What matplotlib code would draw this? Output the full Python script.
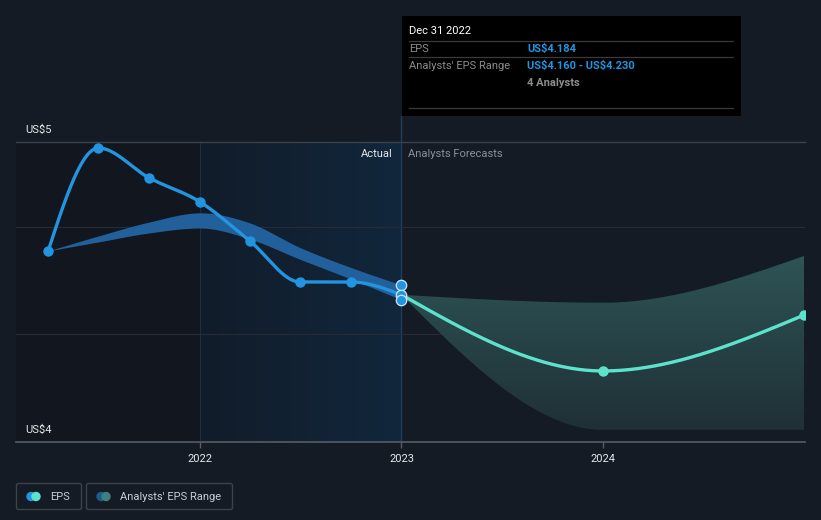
import numpy as np
import pandas as pd
import matplotlib
matplotlib.use("Agg")
import matplotlib.pyplot as plt
from matplotlib.patches import Rectangle, FancyBboxPatch, Circle, Polygon
from matplotlib.colors import LinearSegmentedColormap

plt.rcParams["font.family"] = ["Roboto", "DejaVu Sans"]

# ---- data ----
past_dates = ["2021-03-31", "2021-06-30", "2021-09-30", "2021-12-31",
              "2022-03-31", "2022-06-30", "2022-09-30", "2022-12-31"]
past_eps = [4.389, 4.870, 4.730, 4.618, 4.436, 4.244, 4.244, 4.184]
past_low = [4.389, 4.431, 4.473, 4.496, 4.445, 4.350, 4.258, 4.160]
past_high = [4.389, 4.459, 4.524, 4.567, 4.520, 4.405, 4.312, 4.230]

fc_dates = ["2022-12-31", "2023-12-31", "2024-12-31"]
fc_eps = [4.184, 3.828, 4.090]
fc_low = [4.184, 3.553, 3.553]
fc_high = [4.184, 4.147, 4.366]

x_ticks = [2022, 2023, 2024]
y_top, y_bottom = 4.898, 3.496
grid_vals = [4.5, 4.0]
y_labels = ["US$5", "US$4"]

BG = "#151b25"
BLUE = "#2394df"
TEAL = "#5de3cc"
BAND_PAST = "#21609a"


def to_year(dates):
    d = pd.to_datetime(dates)
    return np.array([t.year + (t.dayofyear) / (366 if t.is_leap_year else 365) for t in d])


def monotone(x, y, n=300):
    # monotone cubic (d3 curveMonotoneX style) just for drawing the curve
    x = np.asarray(x, float)
    y = np.asarray(y, float)
    h = np.diff(x)
    d = np.diff(y) / h
    m = np.zeros(len(x))
    for i in range(1, len(x) - 1):
        p = (d[i - 1] * h[i] + d[i] * h[i - 1]) / (h[i - 1] + h[i])
        m[i] = (np.sign(d[i - 1]) + np.sign(d[i])) * min(abs(d[i - 1]), abs(d[i]), 0.5 * abs(p))
    if len(x) > 2:
        m[0] = (3 * d[0] - m[1]) / 2
        m[-1] = (3 * d[-1] - m[-2]) / 2
    else:
        m[:] = d[0]
    xs, ys = [], []
    for i in range(len(x) - 1):
        t = np.linspace(0, 1, n // (len(x) - 1) + 2)
        h00 = 2 * t**3 - 3 * t**2 + 1
        h10 = t**3 - 2 * t**2 + t
        h01 = -2 * t**3 + 3 * t**2
        h11 = t**3 - t**2
        xs.append(x[i] + t * h[i])
        ys.append(h00 * y[i] + h10 * h[i] * m[i] + h01 * y[i + 1] + h11 * h[i] * m[i + 1])
    return np.concatenate(xs), np.concatenate(ys)


W, H = 821, 520
fig = plt.figure(figsize=(W / 100, H / 100), dpi=100, facecolor=BG)

# overlay in pixel coordinates for tooltip / legend
ov = fig.add_axes([0, 0, 1, 1], zorder=5)
ov.set_xlim(0, W)
ov.set_ylim(H, 0)
ov.axis("off")
ov.patch.set_alpha(0)

# main axes: px 16..805 horizontally, 142..442 vertically
px_per_year = 201.5
x_left = 2022 - (200 - 16) / px_per_year
x_right = 2022 + (805 - 200) / px_per_year
ax = fig.add_axes([16 / W, (H - 442) / H, (805 - 16) / W, 300 / H], zorder=2)
ax.set_facecolor(BG)
ax.set_xlim(x_left, x_right)
ax.set_ylim(y_bottom, y_top)
for s in ax.spines.values():
    s.set_visible(False)
ax.set_yticks([])

# background regions
ax.axvspan(x_left, 2022, color="#12161e", zorder=0, lw=0)
grad = np.linspace(0, 1, 256).reshape(1, -1)
bcm = LinearSegmentedColormap.from_list("b", ["#111c2a", "#11273c"])
ax.imshow(grad, extent=[2022, 2023, y_bottom, y_top], aspect="auto", cmap=bcm, zorder=0.5)
ax.axvline(2022, color="#1b2e42", lw=0.8, zorder=1)
ax.axvline(2023, ymin=0, ymax=(442 - 116) / 300, color="#1f3d5c", lw=1, zorder=1, clip_on=False)

# grid lines
ax.axhline(y_top, color="#3b414b", lw=1, zorder=1, clip_on=False)
for g in grid_vals:
    ax.axhline(g, color="#262c36", lw=0.8, zorder=1)
ax.axhline(y_bottom, color="#565c66", lw=1.2, zorder=6, clip_on=False)

# past analyst range band
px = to_year(past_dates)
bx, bl = monotone(px, past_low)
_, bh = monotone(px, past_high)
ax.fill_between(bx, bl, bh, color=BAND_PAST, lw=0, zorder=2)

# forecast band with vertical gradient
fx = to_year(fc_dates)
fbx, fbl = monotone(fx, fc_low)
_, fbh = monotone(fx, fc_high)
poly = Polygon(np.column_stack([np.r_[fbx, fbx[::-1]], np.r_[fbh, fbl[::-1]]]),
               closed=True, facecolor="none", edgecolor="none")
ax.add_patch(poly)
gcm = LinearSegmentedColormap.from_list("g", ["#1f3036", "#2e5455"])
vgrad = np.linspace(0, 1, 256).reshape(-1, 1)
im = ax.imshow(vgrad, extent=[fx[0], fx[-1], min(fc_low), max(fc_high)], origin="lower",
               aspect="auto", cmap=gcm, zorder=2)
im.set_clip_path(poly)

# EPS lines
lx, ly = monotone(px, past_eps)
ax.plot(lx, ly, color=BLUE, lw=2.4, zorder=4, solid_capstyle="round")
ax.plot(px[:-1], past_eps[:-1], "o", color=BLUE, ms=6.5, zorder=5)
flx, fly = monotone(fx, fc_eps)
ax.plot(flx, fly, color=TEAL, lw=2.4, zorder=4, solid_capstyle="round")
ax.plot(fx[1:], fc_eps[1:], "o", color=TEAL, ms=6.5, zorder=5, clip_on=True)
ax.plot([fx[0]] * 3, [past_high[-1], past_eps[-1], past_low[-1]], "o", color=BLUE,
        mec="#cfe6fb", mew=0.9, ms=7.5, zorder=6, clip_on=False)

# x ticks
ax.set_xticks(x_ticks)
ax.set_xticklabels([str(t) for t in x_ticks])
ax.tick_params(axis="x", colors="#565c66", length=4, width=1, pad=5, labelcolor="#e6e8eb",
               labelsize=8)

# y labels
for val, lab in zip([y_top, y_bottom], y_labels):
    ax.annotate(lab, xy=(x_left, val), xytext=(9, 12), textcoords="offset pixels",
                color="#e6e8eb", fontsize=8, va="center", ha="left", annotation_clip=False,
                parse_math=False)

# Actual / forecast labels
ax.annotate("Actual", xy=(2023, y_top), xytext=(-9, -12), textcoords="offset pixels",
            color="#e6e8eb", fontsize=8, ha="right", va="center")
ax.annotate("Analysts Forecasts", xy=(2023, y_top), xytext=(7, -12), textcoords="offset pixels",
            color="#8a8f97", fontsize=8, ha="left", va="center")

# tooltip
ov.add_patch(Rectangle((402, 16), 339, 100, facecolor="#000000", edgecolor="none"))
for yy in (41, 57, 108):
    ov.plot([409, 733], [yy, yy], color="#3a3a3a", lw=0.9)
tip = dict(fontsize=8, va="center", parse_math=False)
ov.text(409, 31, "Dec 31 2022", color="#ffffff", **tip)
ov.text(409, 48.5, "EPS", color="#8c8c8c", **tip)
ov.text(527, 48.5, "US$4.184", color=BLUE, fontweight="bold", **tip)
ov.text(409, 66, "Analysts' EPS Range", color="#8c8c8c", **tip)
ov.text(527, 66, "US$4.160 - US$4.230", color=BLUE, fontweight="bold", **tip)
ov.text(527, 83, "4 Analysts", color="#8c8c8c", fontweight="bold", **tip)

# legend
ov.add_patch(FancyBboxPatch((16.5, 483.5), 65, 26, boxstyle="round,pad=0,rounding_size=2",
                            facecolor="none", edgecolor="#3c414a", lw=1))
ov.add_patch(FancyBboxPatch((86.5, 483.5), 146, 26, boxstyle="round,pad=0,rounding_size=2",
                            facecolor="none", edgecolor="#3c414a", lw=1))
ov.add_patch(Circle((31, 496.5), 4, color=BLUE))
ov.add_patch(Circle((36, 496.5), 4, color=TEAL))
ov.text(50, 496.5, "EPS", color="#c8ccd2", fontsize=8, va="center")
ov.add_patch(Circle((101, 496.5), 4, color="#1d5b8f"))
ov.add_patch(Circle((106, 496.5), 4, color="#3f807c"))
ov.text(120, 496.5, "Analysts' EPS Range", color="#c8ccd2", fontsize=8, va="center")

fig.savefig("out.png", dpi=100, facecolor=BG)
